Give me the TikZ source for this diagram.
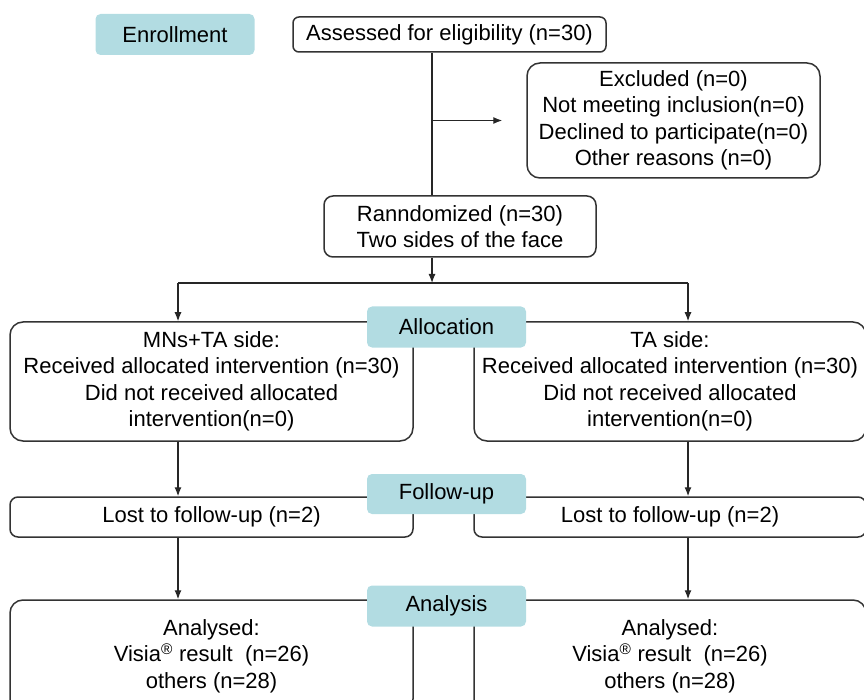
\documentclass[tikz,border=0pt]{standalone}
\usepackage{fontspec}
\setmainfont{Liberation Sans}
\usetikzlibrary{arrows.meta}
\definecolor{stageteal}{RGB}{178,220,226}
\tikzset{
	flowbox/.style={
			draw=black!80, line width=1.5pt, rounded corners=#1, align=center, inner sep=0pt
		},
	flowbox/.default=13pt,
	stagebox/.style={
			fill=stageteal, rounded corners=5pt, minimum width=159pt, minimum height=41pt, inner sep=0pt
		},
	link/.style={line width=1.2pt, black!85},
	arr/.style={link, -{Latex[length=9pt,width=7pt]}}
}

\begin{document}
\begin{tikzpicture}[x=1pt, y=-1pt, every node/.style={font=\fontsize{22}{26.5}\selectfont}]
	\useasboundingbox (0,0) rectangle (864,700);

	\node[flowbox=6pt, minimum width=313pt, minimum height=35pt] (assess) at (449.5,34.5) {Assessed for eligibility (n=30)};
	\node[flowbox, minimum width=293pt, minimum height=115pt] (excl) at (673.5,120.5) {Excluded (n=0)\\Not meeting inclusion(n=0)\\Declined to participate(n=0)\\Other reasons (n=0)};
	\node[flowbox=9pt, minimum width=272pt, minimum height=61pt] (rand) at (460,226.5) {Ranndomized (n=30)\\Two sides of the face};

	\node[flowbox, minimum width=403pt, minimum height=119pt] (lalloc) at (211.5,381.5) {MNs+TA side:\\Received allocated intervention (n=30)\\Did not received allocated\\intervention(n=0)};
	\node[flowbox, minimum width=392pt, minimum height=119pt] (ralloc) at (670,381.5) {TA side:\\Received allocated intervention (n=30)\\Did not received allocated\\intervention(n=0)};
	\node[flowbox=8pt, minimum width=403pt, minimum height=40pt] (lfol) at (211.5,517) {Lost to follow-up (n=2)};
	\node[flowbox=8pt, minimum width=392pt, minimum height=40pt] (rfol) at (670,517) {Lost to follow-up (n=2)};
	\node[flowbox, minimum width=403pt, minimum height=112pt] (lana) at (211.5,656) {Analysed:\\Visia\textsuperscript{®} result~ (n=26)\\others (n=28)};
	\node[flowbox, minimum width=392pt, minimum height=112pt] (rana) at (670,656) {Analysed:\\Visia\textsuperscript{®} result~ (n=26)\\others (n=28)};

	\node[stagebox] (enroll) at (175,34.5) {Enrollment};
	\node[stagebox] (alloc) at (446.5,327) {Allocation};
	\node[stagebox, minimum height=40pt] (follow) at (446.5,494) {Follow-up};
	\node[stagebox] (analysis) at (446.5,606) {Analysis};

	\coordinate (trunk) at (432,0);
	\coordinate (lcol) at (178,0);
	\coordinate (rcol) at (688,0);
	\coordinate (split) at (0,283);

	\draw[link]	(assess.south -| trunk) to (rand.north -| trunk);
	\draw[arr]	(trunk |- excl.west) to ([xshift=-24pt]excl.west);
	\draw[arr]	(rand.south -| trunk) to (split -| trunk);
	\draw[link]	(split -| lcol) to (split -| rcol);
	\draw[arr]	(split -| lcol) to (lalloc.north -| lcol);
	\draw[arr]	(split -| rcol) to (ralloc.north -| rcol);
	\draw[arr]	(lalloc.south -| lcol) to (lfol.north -| lcol);
	\draw[arr]	(ralloc.south -| rcol) to (rfol.north -| rcol);
	\draw[arr]	(lfol.south -| lcol) to (lana.north -| lcol);
	\draw[arr]	(rfol.south -| rcol) to (rana.north -| rcol);
\end{tikzpicture}
\end{document}
